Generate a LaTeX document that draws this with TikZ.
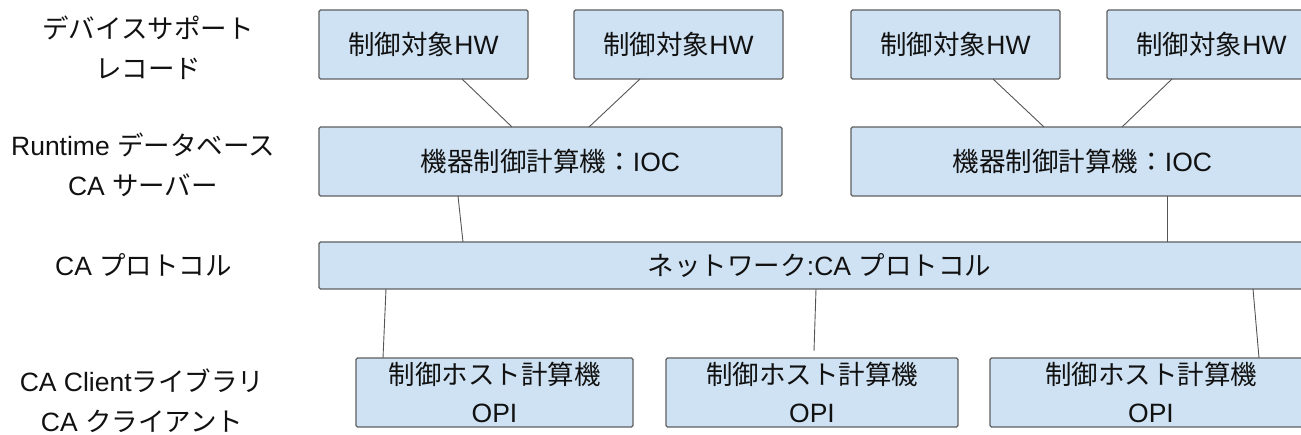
\documentclass[tikz,border=0pt]{standalone}
\usepackage{fontspec}
\setmainfont{Liberation Sans}
\newfontfamily\jp{Noto Sans CJK JP}
\definecolor{boxfill}{HTML}{CFE2F3}
\definecolor{boxline}{HTML}{5E5E5E}
\definecolor{conn}{HTML}{555555}
\definecolor{txt}{HTML}{111111}
\tikzset{
  box/.style={draw=boxline, fill=boxfill, line width=1.3pt, rounded corners=1.5pt,
    outer sep=0pt, inner sep=0pt, align=center, text=txt,
    font=\fontsize{26.5}{38}\selectfont},
  lbl/.style={align=center, text=txt, inner sep=0pt, font=\fontsize{26.5}{40}\selectfont},
  link/.style={draw=conn, line width=0.9pt}
}
\begin{document}
\begin{tikzpicture}[x=1pt,y=-1pt]
\useasboundingbox (0,0) rectangle (1301,435);
% left labels
\node[lbl] (l1) at (148,48) {{\jp デバイスサポート}\\{\jp レコード}};
\node[lbl] (l2) at (143,165) {Runtime {\jp データベース}\\CA {\jp サーバー}};
\node[lbl] (l3) at (143.5,265) {CA {\jp プロトコル}};
\node[lbl] (l4) at (142,401) {CA Client{\jp ライブラリ}\\CA {\jp クライアント}};
% HW boxes
\node[box, minimum width=209pt, minimum height=69pt] (hw1) at (423.5,44.5) {{\jp 制御対象}HW};
\node[box, minimum width=209pt, minimum height=69pt] (hw2) at (678.5,44.5) {{\jp 制御対象}HW};
\node[box, minimum width=209pt, minimum height=69pt] (hw3) at (955.5,44.5) {{\jp 制御対象}HW};
\node[box, minimum width=209pt, minimum height=69pt] (hw4) at (1211.5,44.5) {{\jp 制御対象}HW};
% IOC boxes
\node[box, minimum width=463pt, minimum height=69pt] (ioc1) at (550.5,161.5) {{\jp 機器制御計算機：}IOC};
\node[box, minimum width=463pt, minimum height=69pt] (ioc2) at (1082.5,161.5) {{\jp 機器制御計算機：}IOC};
% network
\node[box, minimum width=1001pt, minimum height=47pt] (net) at (819.5,265.5) {{\jp ネットワーク}:CA {\jp プロトコル}};
% OPI boxes
\node[box, minimum width=277pt, minimum height=69pt] (opi1) at (494.5,392.5) {{\jp 制御ホスト計算機}\\OPI};
\node[box, minimum width=292pt, minimum height=69pt] (opi2) at (812,392.5) {{\jp 制御ホスト計算機}\\OPI};
\node[box, minimum width=322pt, minimum height=69pt] (opi3) at (1151,392.5) {{\jp 制御ホスト計算機}\\OPI};
% connectors
\draw[link] ([xshift=38.5pt]hw1.south) -- ([xshift=-38.5pt]ioc1.north);
\draw[link] ([xshift=-38.5pt]hw2.south) -- ([xshift=38.5pt]ioc1.north);
\draw[link] ([xshift=37.5pt]hw3.south) -- ([xshift=-38.5pt]ioc2.north);
\draw[link] ([xshift=-39.5pt]hw4.south) -- ([xshift=39.5pt]ioc2.north);
\draw[link] ([xshift=-92.5pt]ioc1.south) -- ([xshift=-356.5pt]net.north);
\draw[link] ([xshift=84.5pt]ioc2.south) -- ([xshift=347.5pt]net.north);
\draw[link] ([xshift=-433.5pt]net.south) -- ([xshift=-111.5pt]opi1.north);
\draw[link] ([xshift=-3.5pt]net.south) -- ([xshift=2pt,yshift=7pt]opi2.north);
\draw[link] ([xshift=433.5pt]net.south) -- ([xshift=108pt]opi3.north);
\end{tikzpicture}
\end{document}
